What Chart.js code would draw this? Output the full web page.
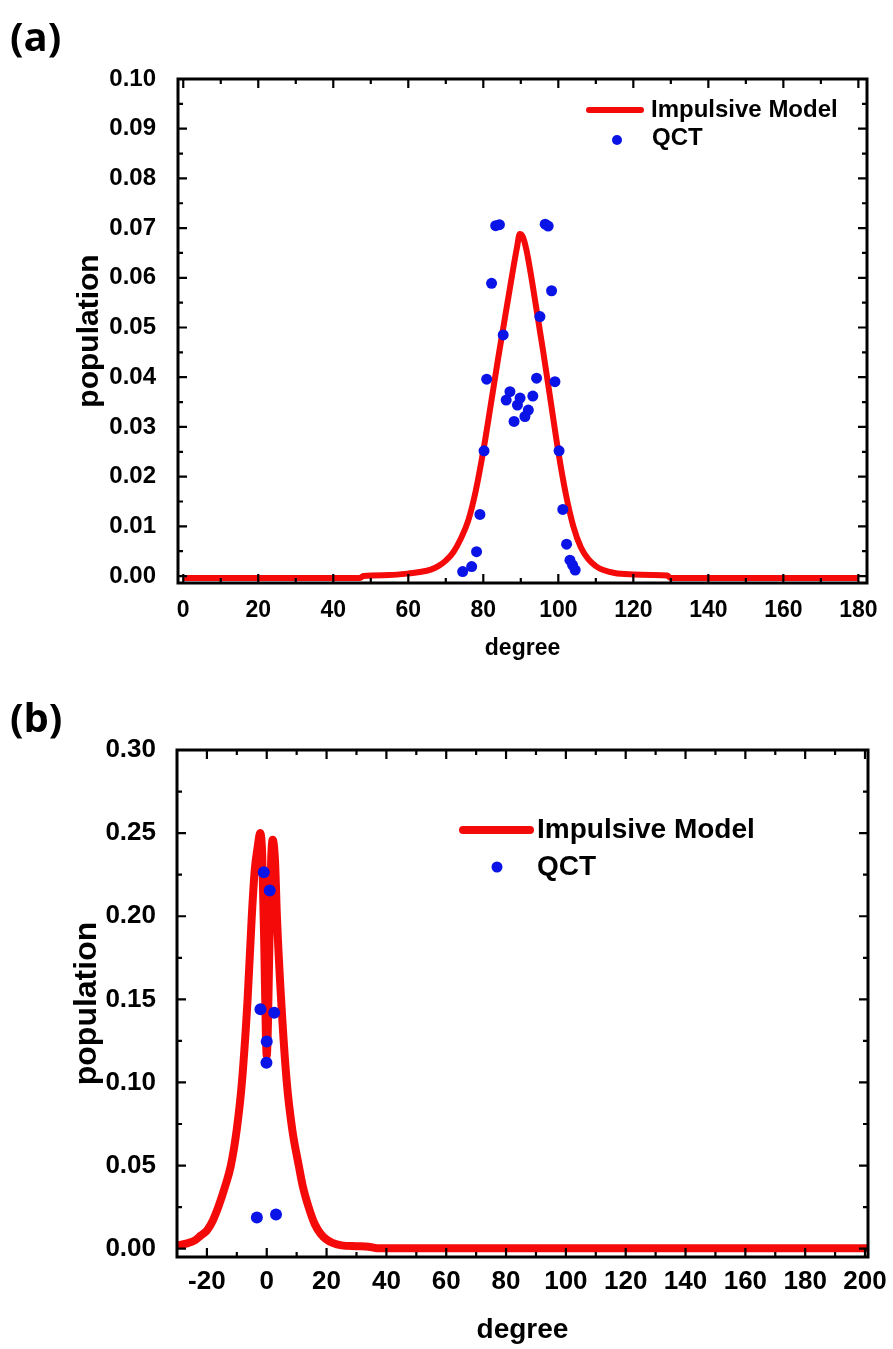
<!DOCTYPE html>
<html>
<head>
<meta charset="utf-8">
<script src="https://cdn.jsdelivr.net/npm/chart.js@4.4.1/dist/chart.umd.min.js"></script>
<style>
  html, body { margin: 0; padding: 0; background: #fff; }
  #wrap { position: relative; width: 893px; height: 1349px; overflow: hidden; }
  canvas { position: absolute; left: 0; }
  #chartA { top: 0; }
  #chartB { top: 680px; }
  .panel { position: absolute; left: 10px; font-family: 'Open Sans', sans-serif; font-weight: 700; font-size: 40px; line-height: 40px; }
</style>
</head>
<body>
<div id="wrap">
  <canvas id="chartA" width="893" height="680"></canvas>
  <canvas id="chartB" width="893" height="669"></canvas>
  <div class="panel" style="top:16px">(a)</div>
  <div class="panel" style="top:697px">(b)</div>
</div>
<script>
// ---- panel (a) : impulsive model curve
const degA = [0, 20, 40, 47, 48, 55, 60, 63, 66, 68, 70, 72, 74, 76, 78, 80, 82, 84, 86, 87, 88,
  89, 89.7, 90.5, 91.5, 92.5, 94, 96, 98, 100, 102, 104, 106, 108, 110, 112, 115, 120, 125, 129, 130, 150, 180];
const popA = [-0.0004, -0.0004, -0.0004, -0.0004, 0.0000, 0.0002, 0.0005, 0.0008, 0.0013, 0.0020, 0.0031, 0.0048, 0.0075, 0.0112, 0.0172, 0.0252, 0.0345, 0.0440, 0.0530, 0.0575, 0.0620,
  0.0662, 0.0688, 0.0683, 0.0656, 0.0615, 0.0545, 0.0450, 0.0350, 0.0250, 0.0165, 0.0100, 0.0058, 0.0034, 0.0020, 0.0012, 0.0006, 0.0003, 0.0002, 0.0001, -0.0004, -0.0004, -0.0004];

// ---- panel (a) : QCT points
const qctDegA = [74.5, 76.9, 78.2, 79.1, 80.2, 80.9, 82.2, 83.3, 84.3, 85.3, 86.1, 87.1, 88.2, 89.1, 89.8,
  91.1, 92.0, 93.2, 94.2, 95.1, 96.5, 97.3, 98.2, 99.1, 100.2, 101.2, 102.2, 103.1, 103.8, 104.5];
const qctPopA = [0.0009, 0.0019, 0.0049, 0.0124, 0.0252, 0.0396, 0.0589, 0.0705, 0.0707, 0.0485, 0.0354, 0.0371, 0.0311, 0.0344, 0.0358,
  0.0321, 0.0334, 0.0362, 0.0398, 0.0522, 0.0708, 0.0704, 0.0574, 0.0391, 0.0252, 0.0134, 0.0064, 0.0032, 0.0022, 0.0012];

// ---- panel (b) : impulsive model curve
const degB = [-30, -27, -24, -22, -20, -18, -16, -14, -12, -10, -8.3, -6.4, -5, -4, -3, -2.2, -1.5, -0.8, -0.3, 0,
  0.4, 1.0, 1.5, 2.0, 2.8, 3.4, 4.8, 6.7, 8.5, 10.7, 12, 14, 16, 18, 20, 22, 25, 30, 34, 37, 60, 100, 150, 201];
const popB = [0.002, 0.003, 0.005, 0.008, 0.011, 0.017, 0.026, 0.037, 0.050, 0.072, 0.100, 0.150, 0.200, 0.228, 0.242, 0.250, 0.236, 0.180, 0.130, 0.116,
  0.135, 0.195, 0.235, 0.246, 0.232, 0.200, 0.150, 0.100, 0.072, 0.050, 0.038, 0.025, 0.015, 0.009, 0.0055, 0.0035, 0.002, 0.0015, 0.0012, 0.0003,
  0.0003, 0.0003, 0.0003, 0.0003];

// ---- panel (b) : QCT points
const qctDegB = [-3.3, -2.1, -1.0, -0.1, 0.0, 1.0, 2.5, 3.1];
const qctPopB = [0.0188, 0.1441, 0.2264, 0.1119, 0.1246, 0.2155, 0.1420, 0.0206];

// ---- ticks
const xTicksA = [0, 20, 40, 60, 80, 100, 120, 140, 160, 180];
const xLabelsA = ['0', '20', '40', '60', '80', '100', '120', '140', '160', '180'];
const xMinorA = [10, 30, 50, 70, 90, 110, 130, 150, 170];
const yTicksA = [0, 0.01, 0.02, 0.03, 0.04, 0.05, 0.06, 0.07, 0.08, 0.09, 0.10];
const yLabelsA = ['0.00', '0.01', '0.02', '0.03', '0.04', '0.05', '0.06', '0.07', '0.08', '0.09', '0.10'];
const yMinorA = [0.005, 0.015, 0.025, 0.035, 0.045, 0.055, 0.065, 0.075, 0.085, 0.095];

const xTicksB = [-20, 0, 20, 40, 60, 80, 100, 120, 140, 160, 180, 200];
const xLabelsB = ['-20', '0', '20', '40', '60', '80', '100', '120', '140', '160', '180', '200'];
const xMinorB = [-10, 10, 30, 50, 70, 90, 110, 130, 150, 170, 190];
const yTicksB = [0, 0.05, 0.10, 0.15, 0.20, 0.25, 0.30];
const yLabelsB = ['0.00', '0.05', '0.10', '0.15', '0.20', '0.25', '0.30'];
const yMinorB = [0.025, 0.075, 0.125, 0.175, 0.225, 0.275];

const RED = '#f50a0a';
const BLUE = '#0a14e6';
const FONT = "'Liberation Sans', Arial, sans-serif";

const toXY = (xs, ys) => xs.map((x, i) => ({ x: x, y: ys[i] }));

// frame, inward ticks on all four sides, and the legend inside the plot
const framePlugin = {
  id: 'frame',
  afterDatasetsDraw(chart, args, o) {
    const { ctx, chartArea: a, scales: { x, y } } = chart;
    ctx.save();
    ctx.strokeStyle = '#000';
    ctx.lineWidth = 2.2;
    ctx.beginPath();
    const vt = (vals, len) => vals.forEach(v => {
      const p = x.getPixelForValue(v);
      ctx.moveTo(p, a.bottom); ctx.lineTo(p, a.bottom - len);
      ctx.moveTo(p, a.top); ctx.lineTo(p, a.top + len);
    });
    const ht = (vals, len) => vals.forEach(v => {
      const p = y.getPixelForValue(v);
      ctx.moveTo(a.left, p); ctx.lineTo(a.left + len, p);
      ctx.moveTo(a.right, p); ctx.lineTo(a.right - len, p);
    });
    vt(o.xMajor, 9); vt(o.xMinor, 5);
    ht(o.yMajor, 9); ht(o.yMinor, 5);
    ctx.stroke();
    ctx.lineWidth = 3;
    ctx.strokeRect(a.left, a.top, a.right - a.left, a.bottom - a.top);

    // legend
    const L = o.legend;
    const dsDot = chart.data.datasets[0], dsLine = chart.data.datasets[1];
    ctx.strokeStyle = dsLine.borderColor;
    ctx.lineWidth = dsLine.borderWidth;
    ctx.lineCap = 'round';
    ctx.beginPath();
    ctx.moveTo(L.x0, L.y1); ctx.lineTo(L.x1, L.y1);
    ctx.stroke();
    ctx.fillStyle = dsDot.backgroundColor;
    ctx.beginPath();
    ctx.arc(L.dotX, L.dotY, dsDot.pointRadius - 0.5, 0, Math.PI * 2);
    ctx.fill();
    ctx.fillStyle = '#000';
    ctx.font = 'bold ' + L.size + 'px ' + FONT;
    ctx.textBaseline = 'middle';
    ctx.textAlign = 'left';
    ctx.fillText(dsLine.label, L.tx, L.t1y);
    ctx.fillText(dsDot.label, L.tx2, L.t2y);
    ctx.restore();
  }
};

function panel(id, o) {
  return new Chart(document.getElementById(id), {
    type: 'scatter',
    data: {
      datasets: [
        { label: 'QCT', data: o.qct, backgroundColor: BLUE, borderWidth: 0,
          pointRadius: o.dotR, pointHoverRadius: o.dotR, order: 1 },
        { label: 'Impulsive Model', data: o.model, showLine: true, borderColor: RED,
          borderWidth: o.lineW, pointRadius: 0, cubicInterpolationMode: 'monotone',
          borderJoinStyle: 'round', fill: false, order: 2 }
      ]
    },
    options: {
      responsive: false,
      animation: false,
      events: [],
      layout: { padding: o.pad },
      plugins: { legend: { display: false }, tooltip: { enabled: false }, frame: o.frame },
      scales: {
        x: {
          type: 'linear', min: o.xMin, max: o.xMax,
          grid: { display: false }, border: { display: false },
          afterFit: s => { s.height = o.xH; },
          afterBuildTicks: s => { s.ticks = o.xTicks.map(v => ({ value: v })); },
          ticks: { autoSkip: false, maxRotation: 0, padding: o.xPad, color: '#000',
            font: { family: FONT, size: o.xTickSize, weight: 'bold' },
            callback: (v, i) => o.xLabels[i] },
          title: { display: true, text: 'degree', color: '#000',
            font: { family: FONT, size: o.xTitleSize, weight: 'bold' },
            padding: { top: 0, bottom: o.xTitlePad } }
        },
        y: {
          type: 'linear', min: o.yMin, max: o.yMax,
          grid: { display: false }, border: { display: false },
          afterFit: s => { s.width = o.yW; },
          afterBuildTicks: s => { s.ticks = o.yTicks.map(v => ({ value: v })); },
          ticks: { padding: o.yPad, color: '#000',
            font: { family: FONT, size: o.yTickSize, weight: 'bold' },
            callback: (v, i) => o.yLabels[i] },
          title: { display: true, text: 'population', color: '#000',
            font: { family: FONT, size: o.yTitleSize, weight: 'bold' },
            padding: { top: o.yTitlePad, bottom: 0 } }
        }
      }
    },
    plugins: [framePlugin]
  });
}

panel('chartA', {
  model: toXY(degA, popA), qct: toXY(qctDegA, qctPopA),
  xMin: -1.4, xMax: 182.3, yMin: -0.0014, yMax: 0.10,
  xTicks: xTicksA, xLabels: xLabelsA, yTicks: yTicksA, yLabels: yLabelsA,
  pad: { top: 79, right: 26, left: 0, bottom: 0 },
  xH: 97, yW: 178, xPad: 6, yPad: 14,
  xTickSize: 23, yTickSize: 24, xTitleSize: 23, yTitleSize: 30,
  xTitlePad: 18, yTitlePad: 72,
  lineW: 6, dotR: 5.5,
  frame: { xMajor: xTicksA, xMinor: xMinorA, yMajor: yTicksA, yMinor: yMinorA,
    legend: { x0: 589, x1: 641, y1: 110, tx: 651, t1y: 110, dotX: 617, dotY: 140, tx2: 652, t2y: 138, size: 24 } }
});

panel('chartB', {
  model: toXY(degB, popB), qct: toXY(qctDegB, qctPopB),
  xMin: -30, xMax: 201, yMin: -0.005, yMax: 0.30,
  xTicks: xTicksB, xLabels: xLabelsB, yTicks: yTicksB, yLabels: yLabelsB,
  pad: { top: 70, right: 25, left: 0, bottom: 0 },
  xH: 92, yW: 177, xPad: 1, yPad: 13,
  xTickSize: 26, yTickSize: 26, xTitleSize: 28, yTitleSize: 32,
  xTitlePad: 2, yTitlePad: 68,
  lineW: 8, dotR: 6,
  frame: { xMajor: xTicksB, xMinor: xMinorB, yMajor: yTicksB, yMinor: yMinorB,
    legend: { x0: 463, x1: 530, y1: 150, tx: 537, t1y: 150, dotX: 497, dotY: 187, tx2: 537, t2y: 187, size: 28 } }
});
</script>
</body>
</html>
